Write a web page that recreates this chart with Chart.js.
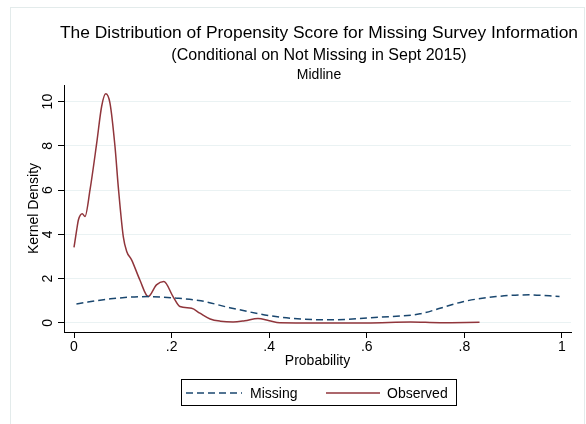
<!DOCTYPE html>
<html>
<head>
<meta charset="utf-8">
<script src="https://cdn.jsdelivr.net/npm/chart.js@4.4.1/dist/chart.umd.min.js"></script>
<style>
  html, body { margin: 0; padding: 0; background: #fff; }
  #wrap { position: relative; width: 586px; height: 424px; }
</style>
</head>
<body>
<div id="wrap"><canvas id="chart"></canvas></div>
<script>
// Kernel density curves
const missingX = [0.005, 0.075, 0.152, 0.21, 0.26, 0.319, 0.422, 0.524, 0.627, 0.709, 0.75, 0.797, 0.865, 0.933, 0.995];
const missingY = [0.86, 1.09, 1.19, 1.12, 1.0, 0.69, 0.26, 0.14, 0.26, 0.41, 0.66, 0.96, 1.19, 1.27, 1.19];

const observedX = [0, 0.0055, 0.009, 0.017, 0.0225, 0.0328, 0.0465, 0.0567, 0.065, 0.0737, 0.084, 0.0907,
  0.101, 0.108, 0.118, 0.135, 0.152, 0.169, 0.184, 0.203, 0.217, 0.241, 0.258, 0.279, 0.30, 0.326,
  0.35, 0.377, 0.40, 0.422, 0.5, 0.6, 0.69, 0.75, 0.831];
const observedY = [3.41, 4.2, 4.65, 4.93, 4.81, 6.01, 8.12, 9.79, 10.35, 9.93, 7.97, 6.16,
  3.9, 3.23, 2.85, 1.94, 1.19, 1.72, 1.87, 1.19, 0.74, 0.66, 0.44, 0.18, 0.08, 0.045,
  0.1, 0.2, 0.1, 0.01, 0.0, 0.0, 0.04, 0.01, 0.03];

const xTicks = [0, 0.2, 0.4, 0.6, 0.8, 1];
const xTickLabels = ['0', '.2', '.4', '.6', '.8', '1'];
const yTicks = [0, 2, 4, 6, 8, 10];

const titleText = 'The Distribution of Propensity Score for Missing Survey Information';
const subtitleText = '(Conditional on Not Missing in Sept 2015)';
const captionText = 'Midline';

const FONT = '"Liberation Sans", Arial, sans-serif';
const NAVY = '#1a476f';
const MAROON = '#90353b';

const zip = (xs, ys) => xs.map((x, i) => ({ x, y: ys[i] }));

// white page + faint outer frame, like the Stata graph region
const framePlugin = {
  id: 'frame',
  beforeDraw(chart) {
    const { ctx } = chart;
    ctx.save();
    ctx.fillStyle = '#fff';
    ctx.fillRect(0, 0, chart.width, chart.height);
    ctx.strokeStyle = '#e3ebeb';
    ctx.lineWidth = 1;
    ctx.strokeRect(10.5, 7.5, 574, 430);
    ctx.restore();
  },
};

// three title lines of different sizes
const titlesPlugin = {
  id: 'titles',
  afterDraw(chart) {
    const { ctx } = chart;
    const cx = 319;
    ctx.save();
    ctx.fillStyle = '#000';
    ctx.textAlign = 'center';
    ctx.textBaseline = 'middle';
    ctx.font = `17.4px ${FONT}`;
    ctx.fillText(titleText, cx, 33);
    ctx.font = `16px ${FONT}`;
    ctx.fillText(subtitleText, cx, 56);
    ctx.font = `14px ${FONT}`;
    ctx.fillText(captionText, cx, 75);
    ctx.restore();
  },
};

// boxed legend below the axis
const boxLegendPlugin = {
  id: 'boxLegend',
  afterDraw(chart) {
    const { ctx } = chart;
    const ds = chart.data.datasets;
    const y = 393;
    const items = [
      { x0: 186, x1: 242, tx: 250 },
      { x0: 326, x1: 380, tx: 387 },
    ];
    ctx.save();
    ctx.strokeStyle = '#000';
    ctx.lineWidth = 1;
    ctx.strokeRect(181.5, 379.5, 275, 26);
    ctx.font = `14px ${FONT}`;
    ctx.textBaseline = 'middle';
    ctx.textAlign = 'left';
    ds.forEach((d, i) => {
      const it = items[i];
      ctx.beginPath();
      ctx.setLineDash(d.borderDash || []);
      ctx.strokeStyle = d.borderColor;
      ctx.lineWidth = d.borderWidth;
      ctx.moveTo(it.x0, y);
      ctx.lineTo(it.x1, y);
      ctx.stroke();
      ctx.setLineDash([]);
      ctx.fillStyle = '#000';
      ctx.fillText(d.label, it.tx, y + 1);
    });
    ctx.restore();
  },
};

new Chart(document.getElementById('chart'), {
  type: 'line',
  data: {
    datasets: [
      {
        label: 'Missing',
        data: zip(missingX, missingY),
        borderColor: NAVY,
        borderWidth: 1.5,
        borderDash: [7, 4],
        pointRadius: 0,
        cubicInterpolationMode: 'monotone',
        fill: false,
      },
      {
        label: 'Observed',
        data: zip(observedX, observedY),
        borderColor: MAROON,
        borderWidth: 1.5,
        pointRadius: 0,
        cubicInterpolationMode: 'monotone',
        fill: false,
      },
    ],
  },
  options: {
    responsive: true,
    maintainAspectRatio: false,
    animation: false,
    events: [],
    layout: { padding: { top: 85, right: 15, bottom: 52, left: 0 } },
    plugins: {
      legend: { display: false },
      title: { display: false },
      tooltip: { enabled: false },
    },
    scales: {
      x: {
        type: 'linear',
        min: -0.0205,
        max: 1.0185,
        afterBuildTicks: (s) => { s.ticks = xTicks.map(v => ({ value: v })); },
        afterFit: (s) => { s.height = 40; },
        ticks: {
          color: '#000',
          font: { family: FONT, size: 14 },
          padding: 1,
          maxRotation: 0,
          callback: (v) => xTickLabels[xTicks.indexOf(v)],
        },
        grid: { drawOnChartArea: false, drawTicks: true, tickLength: 6, tickColor: '#000' },
        border: { color: '#000', width: 1 },
        title: {
          display: true,
          text: 'Probability',
          color: '#000',
          font: { family: FONT, size: 14 },
          padding: { top: 2, bottom: 2 },
        },
      },
      y: {
        type: 'linear',
        min: -0.41,
        max: 10.75,
        afterBuildTicks: (s) => { s.ticks = yTicks.map(v => ({ value: v })); },
        afterFit: (s) => { s.width = 64; },
        ticks: {
          color: '#000',
          font: { family: FONT, size: 14 },
          padding: 2,
          minRotation: 90,
          maxRotation: 90,
          crossAlign: 'center',
        },
        grid: { color: '#eaf2f3', lineWidth: 1, drawTicks: true, tickLength: 6, tickColor: '#000' },
        border: { color: '#000', width: 1 },
        title: {
          display: true,
          text: 'Kernel Density',
          color: '#000',
          font: { family: FONT, size: 14 },
          padding: { top: 26, bottom: 0 },
        },
      },
    },
  },
  plugins: [framePlugin, titlesPlugin, boxLegendPlugin],
});
</script>
</body>
</html>
